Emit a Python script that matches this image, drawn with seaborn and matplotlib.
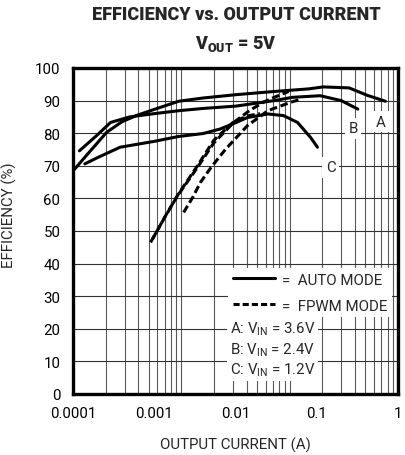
import matplotlib
matplotlib.use("Agg")
import matplotlib.pyplot as plt
from matplotlib.lines import Line2D
import seaborn as sns
import pandas as pd

# ---- data ----
A_auto_I = [1.05e-4, 1.5e-4, 2.6e-4, 4e-4, 6e-4, 1e-3, 2e-3, 4e-3, 1e-2, 3e-2, 8e-2, 1.2e-1, 2.5e-1, 4.2e-1, 7e-1]
A_auto_E = [69.0, 73.5, 80.3, 83.5, 85.4, 87.3, 89.8, 90.8, 91.8, 92.8, 93.6, 94.2, 93.9, 91.6, 89.8]
B_auto_I = [1.2e-4, 2e-4, 2.9e-4, 5e-4, 1e-3, 2e-3, 4e-3, 1e-2, 3e-2, 5e-2, 1.1e-1, 2e-1, 3.2e-1]
B_auto_E = [74.6, 79.5, 83.3, 85.0, 86.0, 86.9, 87.6, 88.3, 90.0, 91.0, 91.5, 90.0, 87.4]
C_auto_I = [1.4e-4, 2e-4, 3.8e-4, 1e-3, 2e-3, 4e-3, 6.5e-3, 1e-2, 1.4e-2, 2.5e-2, 3.9e-2, 5.8e-2, 8.4e-2, 1.02e-1]
C_auto_E = [70.6, 72.5, 75.7, 77.5, 79.0, 79.9, 81.3, 83.2, 84.8, 85.9, 85.4, 83.3, 78.7, 75.7]
A_fpwm_I = [9e-4, 1.3e-3, 1.9e-3, 3.4e-3, 5.4e-3, 9.5e-3, 1.5e-2, 2.2e-2, 3e-2, 4.5e-2]
A_fpwm_E = [46.5, 53.5, 60.5, 69.5, 77.0, 83.3, 87.0, 89.5, 91.0, 92.8]
B_fpwm_I = [2.3e-3, 3e-3, 3.7e-3, 5e-3, 7.5e-3, 1.4e-2, 2.5e-2, 4.8e-2, 6.5e-2]
B_fpwm_E = [55.7, 60.5, 64.9, 69.5, 75.0, 82.3, 86.9, 89.5, 90.5]
C_fpwm_I = [9.5e-4, 1.4e-3, 2e-3, 3.4e-3, 5.4e-3, 9.5e-3, 1.4e-2, 2e-2]
C_fpwm_E = [47.5, 55.0, 61.5, 70.0, 77.8, 83.5, 85.3, 86.0]

curve_labels = ["A", "B", "C"]
x_ticks = [1e-4, 1e-3, 1e-2, 1e-1, 1]
x_tick_labels = ["0.0001", "0.001", "0.01", "0.1", "1"]
y_ticks = list(range(0, 101, 10))
legend_labels = ["=  AUTO MODE", "=  FPWM MODE"]
vin_lines = ["A: V$_\\mathregular{IN}$ = 3.6V", "B: V$_\\mathregular{IN}$ = 2.4V", "C: V$_\\mathregular{IN}$ = 1.2V"]

sns.set_theme(style="white")
plt.rcParams["font.family"] = ["Roboto", "DejaVu Sans"]
plt.rcParams["mathtext.default"] = "regular"

FS = 10.8

fig = plt.figure(figsize=(4.05, 4.56), dpi=100)
rect = [73 / 405, (456 - 395) / 456, 325 / 405, 326 / 456]
# background grid axis (3-decade log grid, as in the reference)
axg = fig.add_axes(rect)
axg.set_xscale("log")
axg.set_xlim(1e-4, 1e-1)
axg.set_ylim(0, 100)
axg.grid(True, which="both", axis="x", color="0.35", lw=0.8)
axg.tick_params(which="both", bottom=False, left=False, labelbottom=False, labelleft=False)
for s in axg.spines.values():
    s.set_visible(False)
axg.set_zorder(1)

ax = fig.add_axes(rect)
ax.set_zorder(2)
ax.patch.set_visible(False)

lw = 2.2
dash = (2.5, 1.2)
series = [
    (A_auto_I, A_auto_E, "-"), (B_auto_I, B_auto_E, "-"), (C_auto_I, C_auto_E, "-"),
    (A_fpwm_I, A_fpwm_E, dash), (B_fpwm_I, B_fpwm_E, dash), (C_fpwm_I, C_fpwm_E, dash),
]
for xs, ys, st in series:
    df = pd.DataFrame({"I": xs, "E": ys})
    sns.lineplot(data=df, x="I", y="E", ax=ax, color="black", lw=lw, sort=False,
                 estimator=None)
    line = ax.lines[-1]
    if st != "-":
        line.set_dashes(st)
    line.set_solid_capstyle("round")

ax.set_xscale("log")
ax.set_xlim(1e-4, 1)
ax.set_ylim(0, 100)
ax.set_xticks(x_ticks)
ax.set_xticklabels(x_tick_labels)
ax.set_yticks(y_ticks)
ax.minorticks_off()
ax.grid(True, axis="y", color="0.2", lw=0.8)
ax.grid(False, axis="x")
ax.tick_params(length=0, labelsize=FS, pad=9, colors="black")
for s in ax.spines.values():
    s.set_visible(True)
    s.set_color("black")
    s.set_linewidth(2.4)

ax.set_xlabel("OUTPUT CURRENT (A)", fontsize=FS, labelpad=12)
ax.set_ylabel("EFFICIENCY (%)", fontsize=FS)
ax.yaxis.set_label_coords(-0.172, 0.552)

# curve labels
lab_pos = [(0.62, 83.5), (0.28, 81.5), (0.149, 69.5)]
for t, (x, y) in zip(curve_labels, lab_pos):
    ax.text(x, y, t, fontsize=FS, ha="center", va="center", zorder=5,
            bbox=dict(facecolor="white", edgecolor="none", pad=2.5))

handles = [Line2D([], [], color="black", lw=lw),
           Line2D([], [], color="black", lw=lw, dashes=(2.0, 1.0))]
leg = ax.legend(handles, legend_labels, loc="upper left", bbox_to_anchor=(0.477, 0.3865),
                frameon=True, fancybox=False, framealpha=1, facecolor="white",
                edgecolor="none", borderaxespad=0, borderpad=0.3, handlelength=2.8,
                handletextpad=0.5, labelspacing=0.8, fontsize=FS)
leg.set_zorder(6)

for i, t in enumerate(vin_lines):
    ax.text(0.482, 0.2 - i * 0.0614, t, transform=ax.transAxes, fontsize=FS,
            ha="left", va="center", zorder=6,
            bbox=dict(facecolor="white", edgecolor="none", pad=2.2))

fig.text(236 / 405, 1 - 15 / 456, "EFFICIENCY vs. OUTPUT CURRENT", ha="center", va="center",
         fontsize=13, fontweight="heavy")
fig.text(236 / 405, 1 - 44 / 456, "V$_\\mathregular{OUT}$ = 5V", ha="center", va="center",
         fontsize=13, fontweight="heavy")

fig.savefig("out.png", dpi=100)
